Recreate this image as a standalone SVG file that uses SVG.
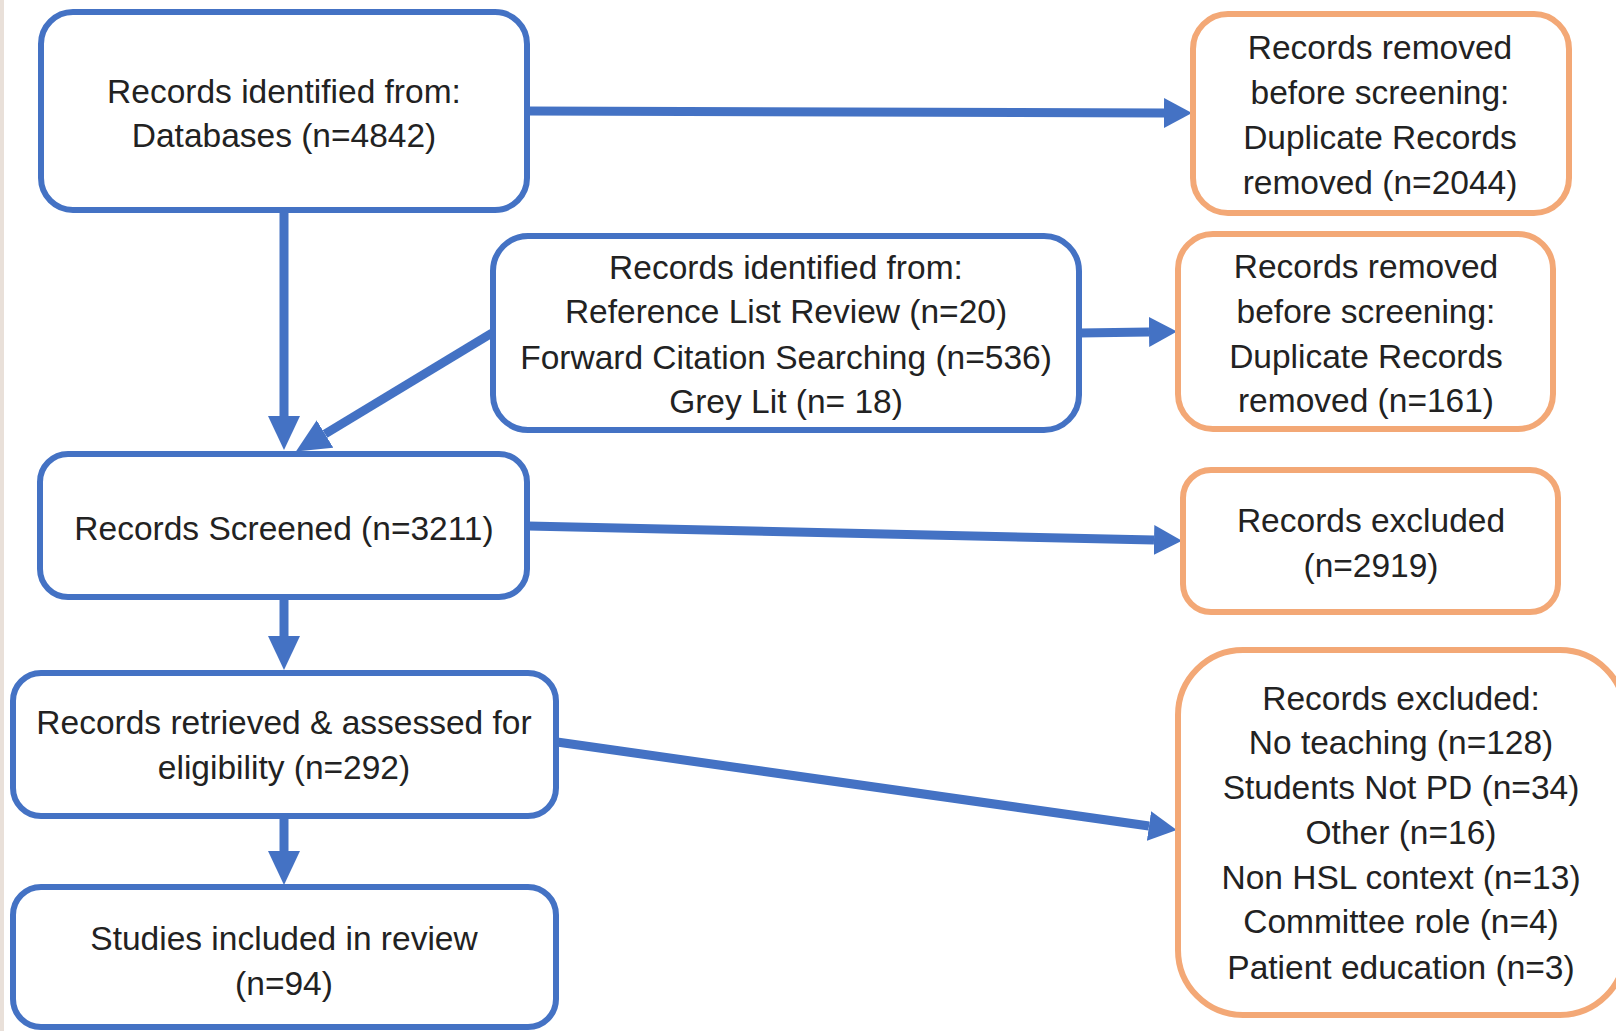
<svg xmlns="http://www.w3.org/2000/svg" width="1616" height="1031" viewBox="0 0 1616 1031">
<defs>
<style>
.b{fill:#fff;stroke:#4472c4;stroke-width:6}
.o{fill:#fff;stroke:#f3a876;stroke-width:6}
text{font-family:"Liberation Sans",Arial,sans-serif;font-size:33.5px;fill:#222;text-anchor:middle}
.c{fill:none;stroke:#4472c4;stroke-width:9}
</style>
<marker id="ah" markerUnits="userSpaceOnUse" viewBox="0 0 28 30" markerWidth="28" markerHeight="30" refX="0" refY="15" orient="auto">
<path d="M0,0 L28,15 L0,30 z" fill="#4472c4"/>
</marker>
<marker id="av" markerUnits="userSpaceOnUse" viewBox="0 0 34 32" markerWidth="34" markerHeight="32" refX="0" refY="16" orient="auto">
<path d="M0,0 L34,16 L0,32 z" fill="#4472c4"/>
</marker>
</defs>
<rect x="0" y="0" width="1616" height="1031" fill="#fff"/>
<rect x="0" y="0" width="4" height="1031" fill="#e9e0d9"/>
<g id="connectors">
<path class="c" d="M528,111 L1164,113" marker-end="url(#ah)"/>
<path class="c" d="M1080,333 L1149,332" marker-end="url(#ah)"/>
<path class="c" d="M528,526 L1154,540" marker-end="url(#ah)"/>
<path class="c" d="M557,742 L1149,826" marker-end="url(#ah)"/>
<path class="c" d="M284,211 L284,416" marker-end="url(#av)"/>
<path class="c" d="M492,333 L325,434" marker-end="url(#av)"/>
<path class="c" d="M284,598 L284,636" marker-end="url(#av)"/>
<path class="c" d="M284,817 L284,851" marker-end="url(#av)"/>
</g>
<g id="n1"><rect class="b" x="41" y="12" width="486" height="198" rx="32"/>
<text x="284" y="103">Records identified from:</text><text x="284" y="147">Databases (n=4842)</text></g>
<g id="nA"><rect class="o" x="1193" y="14" width="376" height="199" rx="35"/>
<text x="1380" y="59">Records removed</text><text x="1380" y="104">before screening:</text><text x="1380" y="149">Duplicate Records</text><text x="1380" y="194">removed (n=2044)</text></g>
<g id="n2"><rect class="b" x="493" y="236" width="586" height="194" rx="35"/>
<text x="786" y="279">Records identified from:</text><text x="786" y="323">Reference List Review (n=20)</text><text x="786" y="369">Forward Citation Searching (n=536)</text><text x="786" y="413">Grey Lit (n= 18)</text></g>
<g id="nB"><rect class="o" x="1178" y="234" width="375" height="195" rx="35"/>
<text x="1366" y="278">Records removed</text><text x="1366" y="323">before screening:</text><text x="1366" y="368">Duplicate Records</text><text x="1366" y="412">removed (n=161)</text></g>
<g id="n3"><rect class="b" x="40" y="454" width="487" height="143" rx="28"/>
<text x="284" y="540">Records Screened (n=3211)</text></g>
<g id="nC"><rect class="o" x="1183" y="470" width="375" height="142" rx="28"/>
<text x="1371" y="532">Records excluded</text><text x="1371" y="577">(n=2919)</text></g>
<g id="n4"><rect class="b" x="13" y="673" width="543" height="143" rx="28"/>
<text x="284" y="734">Records retrieved &amp; assessed for</text><text x="284" y="779">eligibility (n=292)</text></g>
<g id="nD"><rect class="o" x="1178" y="650" width="447" height="365" rx="65"/>
<text x="1401" y="710">Records excluded:</text><text x="1401" y="754">No teaching (n=128)</text><text x="1401" y="799">Students Not PD (n=34)</text><text x="1401" y="844">Other (n=16)</text><text x="1401" y="889">Non HSL context (n=13)</text><text x="1401" y="933">Committee role (n=4)</text><text x="1401" y="979">Patient education (n=3)</text></g>
<g id="n5"><rect class="b" x="13" y="887" width="543" height="140" rx="28"/>
<text x="284" y="950">Studies included in review</text><text x="284" y="995">(n=94)</text></g>
</svg>
